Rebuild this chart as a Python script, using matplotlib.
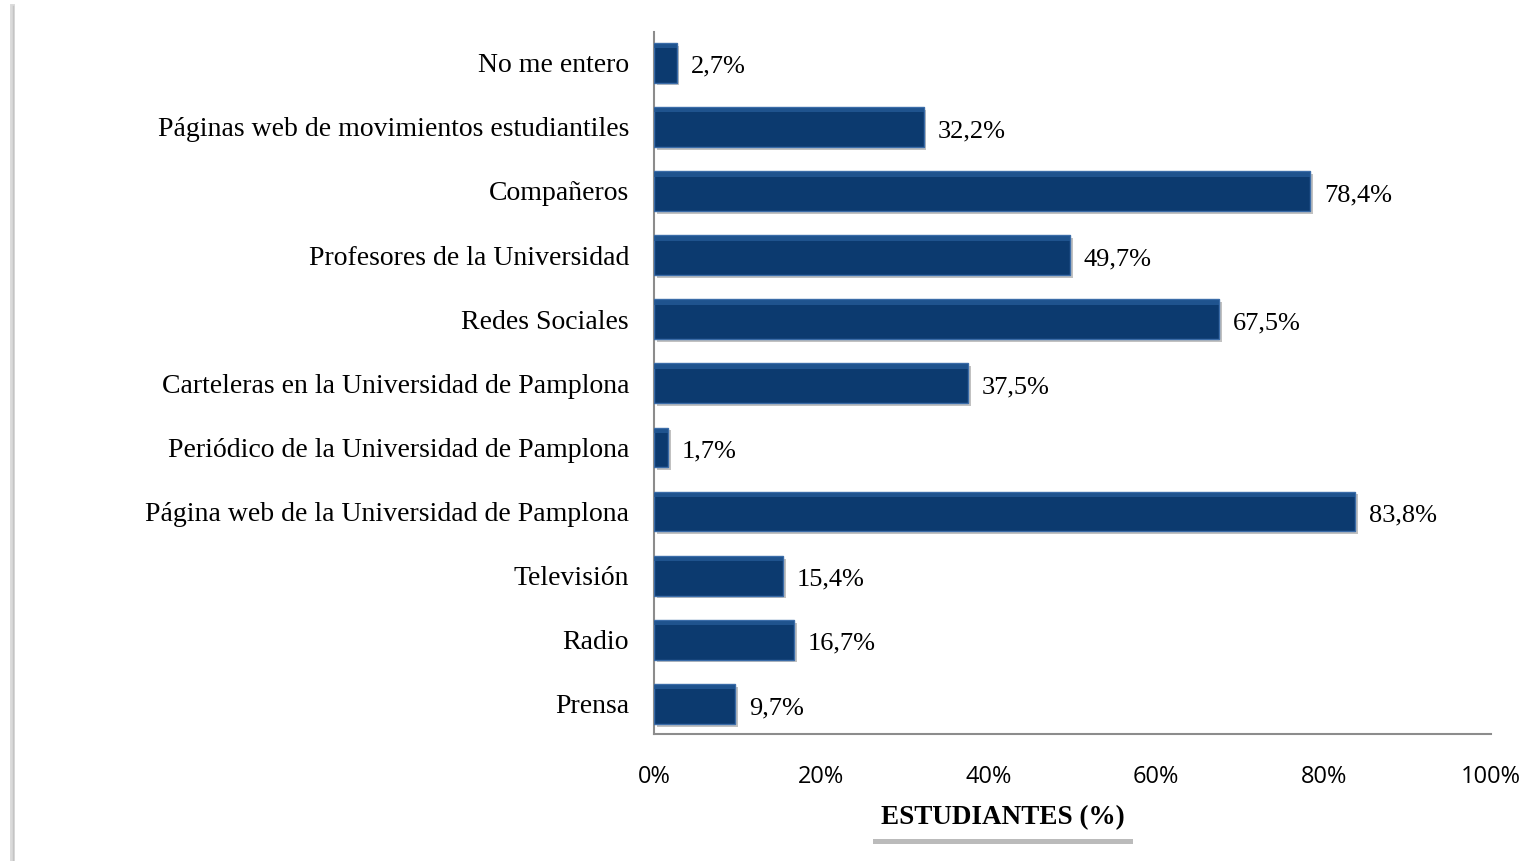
import matplotlib
matplotlib.use("Agg")
import matplotlib.pyplot as plt
import matplotlib.patheffects as pe
from matplotlib.lines import Line2D

categories = [
    "Prensa",
    "Radio",
    "Televisión",
    "Página web de la Universidad de Pamplona",
    "Periódico de la Universidad de Pamplona",
    "Carteleras en la Universidad de Pamplona",
    "Redes Sociales",
    "Profesores de la Universidad",
    "Compañeros",
    "Páginas web de movimientos estudiantiles",
    "No me entero",
]
values = [9.7, 16.7, 15.4, 83.8, 1.7, 37.5, 67.5, 49.7, 78.4, 32.2, 2.7]
xticks = [0, 20, 40, 60, 80, 100]
xtick_labels = ["0%", "20%", "40%", "60%", "80%", "100%"]
xlabel = "ESTUDIANTES (%)"

fig = plt.figure(figsize=(15.36, 8.61), dpi=100)
fig.patch.set_facecolor("white")
ax = fig.add_axes([654 / 1536, 1 - 734 / 861, (1491 - 654) / 1536, (734 - 32) / 861])

ypos = list(range(len(categories)))
bars = ax.barh(ypos, values, height=0.62, color="#0C3A6F", edgecolor="#3B6CA8",
               linewidth=1.0, zorder=3)
for b in bars:
    b.set_path_effects([pe.SimplePatchShadow(offset=(2, -2), shadow_rgbFace="#777777", alpha=0.45),
                        pe.Normal()])
# subtle bevel highlight near the top edge
hl = ax.barh(ypos, values, height=0.07, left=0, color="#255A96", linewidth=0, zorder=4,
             alpha=0.8)
for b, y in zip(hl, ypos):
    b.set_y(y + 0.31 - 0.07 - 0.015)

ax.set_xlim(0, 100)
ax.set_ylim(-0.47, len(categories) - 1 + 0.48)
ax.set_yticks(ypos)
ax.set_yticklabels(categories, fontfamily="Liberation Serif", fontsize=20)
ax.set_xticks(xticks)
ax.set_xticklabels(xtick_labels, fontfamily="Open Sans", fontsize=17)
ax.tick_params(axis="both", length=0)
ax.tick_params(axis="y", pad=18)
ax.tick_params(axis="x", pad=22)

for s in ["top", "right"]:
    ax.spines[s].set_visible(False)
for s in ["left", "bottom"]:
    ax.spines[s].set_color("#8C8C8C")
    ax.spines[s].set_linewidth(1.5)

for v, y in zip(values, ypos):
    ax.annotate(f"{v:.1f}".replace(".", ",") + "%", xy=(v, y), xytext=(10, -3),
                textcoords="offset points", va="center", ha="left",
                fontfamily="Liberation Serif", fontsize=19, color="black")

t = fig.text(1003 / 1536, 1 - 818 / 861, xlabel, ha="center", va="center",
             fontfamily="Liberation Serif", fontweight="bold", fontsize=19.5,
             bbox=dict(boxstyle="square,pad=0.3", facecolor="white", edgecolor="none"))
t.get_bbox_patch().set_path_effects([
    pe.SimplePatchShadow(offset=(0, -4), shadow_rgbFace="#555555", alpha=0.4),
    pe.Normal()])

# left border line with shadow
fig.add_artist(Line2D([12 / 1536, 12 / 1536], [0, 1 - 6 / 861], color="#DADADA",
                      linewidth=3.5, transform=fig.transFigure))
fig.add_artist(Line2D([13 / 1536, 13 / 1536], [0, 1 - 6 / 861], color="#C4C4C4",
                      linewidth=1, transform=fig.transFigure))

fig.savefig("out.png", dpi=100, facecolor="white")
